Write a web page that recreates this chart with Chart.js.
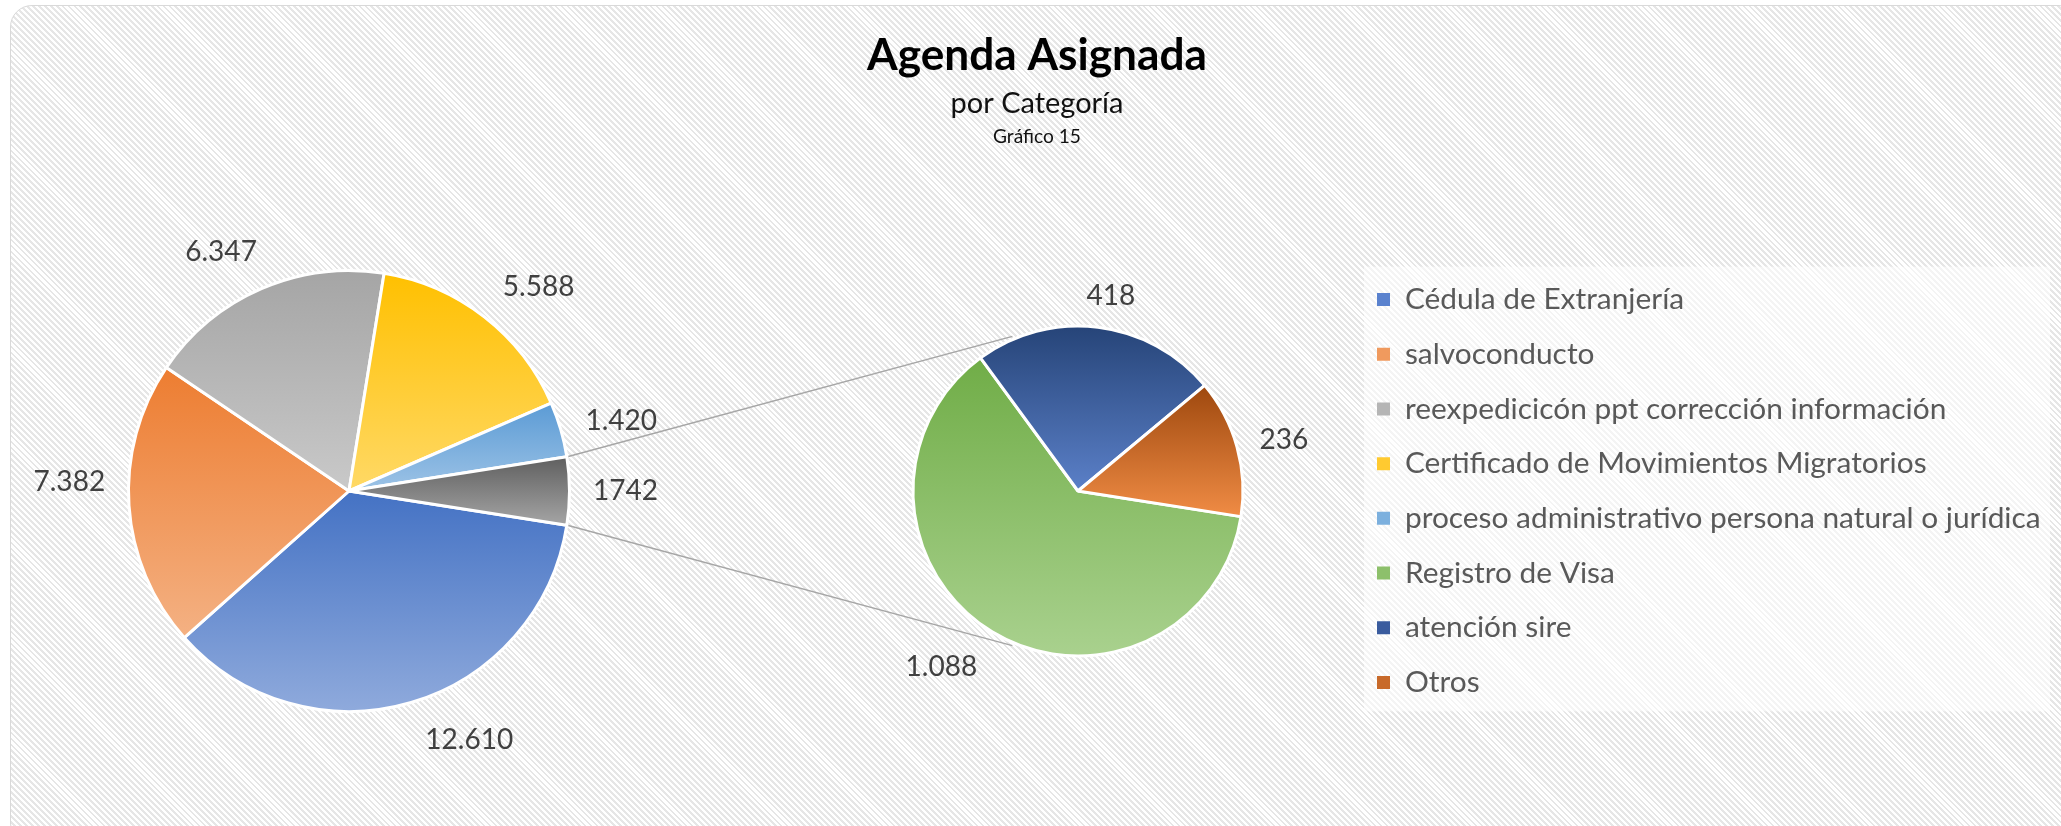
<!DOCTYPE html>
<html>
<head>
<meta charset="utf-8">
<script src="https://cdn.jsdelivr.net/npm/chart.js@4.4.1/dist/chart.umd.min.js"></script>
<style>
  html, body { margin:0; padding:0; width:2061px; height:826px; overflow:hidden; background:#ffffff; }
  #frame {
    position:absolute; left:10px; top:5px; width:2070px; height:840px;
    box-sizing:border-box; border:1.5px solid #d9d9d9; border-radius:22px;
    background: repeating-linear-gradient(45deg, #ffffff 0px, #ffffff 2.2px, #e6e6e6 2.2px, #e6e6e6 4.2px);
  }
  canvas { position:absolute; left:0; top:0; }
</style>
</head>
<body>
<div id="frame"></div>
<canvas id="cMain" width="2061" height="826"></canvas>
<canvas id="cSec" width="2061" height="826"></canvas>
<canvas id="cTitle" width="2061" height="826"></canvas>
<script>
// ---------------- DATA ----------------
const mainCategories = [
  'Cédula de Extranjería',
  'salvoconducto',
  'reexpedicicón ppt corrección información',
  'Certificado de Movimientos Migratorios',
  'proceso administrativo persona natural o jurídica'
];
const mainValues = [12610, 7382, 6347, 5588, 1420];
const otherCategory = 'Otros agrupados';
const otherValue = 1742;
const secondaryCategories = ['Registro de Visa', 'atención sire', 'Otros'];
const secondaryValues = [1088, 418, 236];
const titleText = 'Agenda Asignada';
const subtitleText = 'por Categoría';
const noteText = 'Gráfico 15';

// ---------------- STYLE ----------------
const FONT = 'Lato';
const mainGradients = [
  ['#4472C4', '#8FAADC'],
  ['#ED7D31', '#F4B183'],
  ['#A5A5A5', '#C9C9C9'],
  ['#FFC000', '#FFD966'],
  ['#5B9BD5', '#9DC3E6'],
  ['#5F5F5F', '#A5A5A5']
];
const secondaryGradients = [
  ['#70AD47', '#A9D18E'],
  ['#264478', '#5B80C8'],
  ['#9E480E', '#F08C45']
];
const legendSwatches = ['#5A82CE', '#F09A5E', '#B5B5B5', '#FFCA30', '#7CB0DE', '#8DC06B', '#3A5C9E', '#C86A2A'];
const LABEL_COLOR = '#404040';
const LEGEND_COLOR = '#595959';
const mainLabelShift = [[-7, 15], [5.8, 0], [-2.8, 10], [2.7, 12], [0.5, 3], [0, 0]];
const secLabelShift = [[3.6, 14], [2.1, -4], [0.6, 0]];
const R_MAIN = 220.5, R_SEC = 165;
const MAIN_CX = 349, SEC_CX = 1078, CY = 491;
const LABEL_GAP = 23.5;
const CONNECTOR_DEG = 23;

Chart.defaults.font.family = FONT;

function fmt(v) { return String(v).replace(/\B(?=(\d{3})+(?!\d))/g, '.'); }
const measureCtx = document.createElement('canvas').getContext('2d');
function textW(text, size, weight) { measureCtx.font = (weight || 'normal') + ' ' + size + 'px ' + FONT; return measureCtx.measureText(text).width; }
function fitSize(text, target, weight) { return 100 * target / textW(text, 100, weight); }

function sliceFill(stops, radius, rotationDeg) {
  return (c) => {
    const st = stops[c.dataIndex] || stops[0];
    if (c.type !== 'data') return st[0];
    const chart = c.chart, a = chart.chartArea;
    if (!a) return st[0];
    const d = c.dataset.data, tot = d.reduce((s, v) => s + v, 0);
    let a0 = rotationDeg * Math.PI / 180 - Math.PI / 2;
    for (let i = 0; i < c.dataIndex; i++) a0 += d[i] / tot * 2 * Math.PI;
    const a1 = a0 + d[c.dataIndex] / tot * 2 * Math.PI;
    const cy = (a.top + a.bottom) / 2;
    let y0 = cy, y1 = cy;
    const take = t => { const y = cy + radius * Math.sin(t); if (y < y0) y0 = y; if (y > y1) y1 = y; };
    take(a0); take(a1);
    for (let k = -3; k <= 4; k++) { const t = Math.PI / 2 + k * Math.PI; if (t > a0 && t < a1) take(t); }
    const g = chart.ctx.createLinearGradient(0, y0, 0, y1 + 0.01);
    g.addColorStop(0, st[0]); g.addColorStop(1, st[1]);
    return g;
  };
}

function valueLabels(texts, shifts, fontSize) {
  return {
    id: 'valueLabels',
    afterDatasetsDraw(chart) {
      const ctx = chart.ctx;
      const arcs = chart.getDatasetMeta(0).data;
      ctx.save();
      ctx.font = fontSize + 'px ' + FONT;
      ctx.fillStyle = LABEL_COLOR;
      ctx.textAlign = 'center';
      ctx.textBaseline = 'middle';
      arcs.forEach((arc, i) => {
        const p = arc.getProps(['x', 'y', 'startAngle', 'endAngle', 'outerRadius'], true);
        const sh = shifts[i] || [0, 0];
        const t = (p.startAngle + p.endAngle) / 2 + sh[0] * Math.PI / 180;
        const w = ctx.measureText(texts[i]).width, h = fontSize * 0.9;
        const R = p.outerRadius + LABEL_GAP + sh[1];
        ctx.fillText(texts[i], p.x + (R + w / 2) * Math.cos(t), p.y + (R + h / 2) * Math.sin(t));
      });
      ctx.restore();
    }
  };
}

function build() {
  const Ft = fitSize(titleText, 340, 'bold');
  const Fs = fitSize(subtitleText, 173);
  const Fg = fitSize(noteText, 88);
  const longest = mainCategories.concat(secondaryCategories).reduce((a, b) => textW(a, 50) > textW(b, 50) ? a : b);
  const Fl = fitSize(longest, 636);
  const Fv = fitSize('12.610', 88);

  const mainAll = mainValues.concat([otherValue]);
  const total = mainAll.reduce((s, v) => s + v, 0);
  const rot = 90 + otherValue / total * 180;

  // ---- main pie ----
  const mainTexts = mainValues.map(fmt).concat([String(otherValue)]);
  window.mainChart = new Chart(document.getElementById('cMain'), {
    type: 'pie',
    data: {
      labels: mainCategories.concat([otherCategory]),
      datasets: [{
        data: mainAll,
        backgroundColor: sliceFill(mainGradients, R_MAIN, rot),
        borderColor: '#ffffff',
        borderWidth: 3,
        radius: R_MAIN
      }]
    },
    options: {
      responsive: false, animation: false, events: [],
      rotation: rot,
      layout: { padding: { left: 0, right: 2061 - 2 * MAIN_CX, top: 2 * CY - 826, bottom: 0 } },
      plugins: { legend: { display: false }, title: { display: false }, tooltip: { enabled: false } }
    },
    plugins: [valueLabels(mainTexts, mainLabelShift, Fv)]
  });

  // ---- secondary pie + legend ----
  const legendLabels = mainCategories.concat(secondaryCategories);
  const legendPad = 54.7 - Fl;
  const tw = textW(longest, Fl);
  const boxW = 13;
  const Lw = legendPad + boxW + Fl / 2 + tw + 10;
  const legendLeft = 1377 - legendPad;
  const plB = 2 * SEC_CX - legendLeft;
  const prB = 2061 - legendLeft - Lw;
  const ptB = 200, pbB = 826 - (2 * CY - ptB);

  const connectors = {
    id: 'connectors',
    beforeDraw(chart) {
      // legend backdrop
      const lg = chart.legend;
      if (lg) {
        const n = legendLabels.length;
        const colH = n * (Fl + legendPad);
        const start = (lg.top + legendPad + lg.bottom - colH) / 2;
        const end = start + colH - legendPad;
        const ctx = chart.ctx;
        ctx.save();
        ctx.fillStyle = 'rgba(255,255,255,0.55)';
        ctx.fillRect(lg.left + legendPad - 13, start - 18, 2050 - (lg.left + legendPad - 13), end - start + 32);
        ctx.restore();
      }
    },
    beforeDatasetsDraw(chart) {
      const A = window.mainChart;
      if (!A) return;
      const other = A.getDatasetMeta(0).data[mainValues.length];
      const p = other.getProps(['x', 'y', 'startAngle', 'endAngle', 'outerRadius'], true);
      const R = p.outerRadius + 1.5;
      const s = chart.getDatasetMeta(0).data[0].getProps(['x', 'y', 'outerRadius'], true);
      const Rs = s.outerRadius + 3;
      const ang = CONNECTOR_DEG * Math.PI / 180;
      const ctx = chart.ctx;
      ctx.save();
      ctx.strokeStyle = '#a6a6a6';
      ctx.lineWidth = 1.5;
      ctx.beginPath();
      ctx.moveTo(p.x + R * Math.cos(p.startAngle), p.y + R * Math.sin(p.startAngle));
      ctx.lineTo(s.x - Rs * Math.sin(ang), s.y - Rs * Math.cos(ang));
      ctx.moveTo(p.x + R * Math.cos(p.endAngle), p.y + R * Math.sin(p.endAngle));
      ctx.lineTo(s.x - Rs * Math.sin(ang), s.y + Rs * Math.cos(ang));
      ctx.stroke();
      ctx.restore();
    }
  };

  window.secChart = new Chart(document.getElementById('cSec'), {
    type: 'pie',
    data: {
      labels: secondaryCategories,
      datasets: [{
        data: secondaryValues,
        backgroundColor: sliceFill(secondaryGradients, R_SEC, rot),
        borderColor: '#ffffff',
        borderWidth: 3,
        radius: R_SEC
      }]
    },
    options: {
      responsive: false, animation: false, events: [],
      rotation: rot,
      layout: { padding: { left: plB, right: prB, top: ptB, bottom: pbB } },
      plugins: {
        tooltip: { enabled: false },
        title: { display: false },
        legend: {
          display: true,
          position: 'right',
          align: 'center',
          maxWidth: 900,
          labels: {
            boxWidth: boxW, boxHeight: 13,
            padding: legendPad,
            color: LEGEND_COLOR,
            font: { family: FONT, size: Fl },
            generateLabels: () => legendLabels.map((text, i) => ({
              text, fillStyle: legendSwatches[i], strokeStyle: legendSwatches[i],
              lineWidth: 0, hidden: false, index: i, fontColor: LEGEND_COLOR
            }))
          }
        }
      }
    },
    plugins: [connectors, valueLabels(secondaryValues.map(fmt), secLabelShift, Fv)]
  });

  // ---- titles ----
  const yT = 55.5, yS = 104, yG = 137;
  const tPadTop = yT - 0.6 * Ft;
  const tBottom = tPadTop + 1.2 * Ft;
  const sPadTop = yS - 0.6 * Fs - tBottom;
  const sBottom = tBottom + sPadTop + 1.2 * Fs;
  const gPadTop = yG - Fg / 2 - sBottom;

  new Chart(document.getElementById('cTitle'), {
    type: 'pie',
    data: { labels: [], datasets: [{ data: [] }] },
    options: {
      responsive: false, animation: false, events: [],
      layout: { padding: { left: 13, right: 0, top: 0, bottom: 0 } },
      plugins: {
        tooltip: { enabled: false },
        title: { display: true, text: titleText, color: '#000000', font: { family: FONT, size: Ft, weight: 'bold' }, padding: { top: tPadTop, bottom: 0 } },
        subtitle: { display: true, text: subtitleText, color: '#111111', font: { family: FONT, size: Fs }, padding: { top: sPadTop, bottom: 0 } },
        legend: {
          display: true, position: 'top',
          labels: { generateLabels: () => [] },
          title: { display: true, text: noteText, color: '#111111', font: { family: FONT, size: Fg }, padding: { top: gPadTop, bottom: 0 } }
        }
      }
    }
  });
}

if (document.fonts && document.fonts.load) {
  Promise.all([document.fonts.load('bold 40px Lato'), document.fonts.load('27px Lato')]).then(build, build);
} else { build(); }
</script>
</body>
</html>
